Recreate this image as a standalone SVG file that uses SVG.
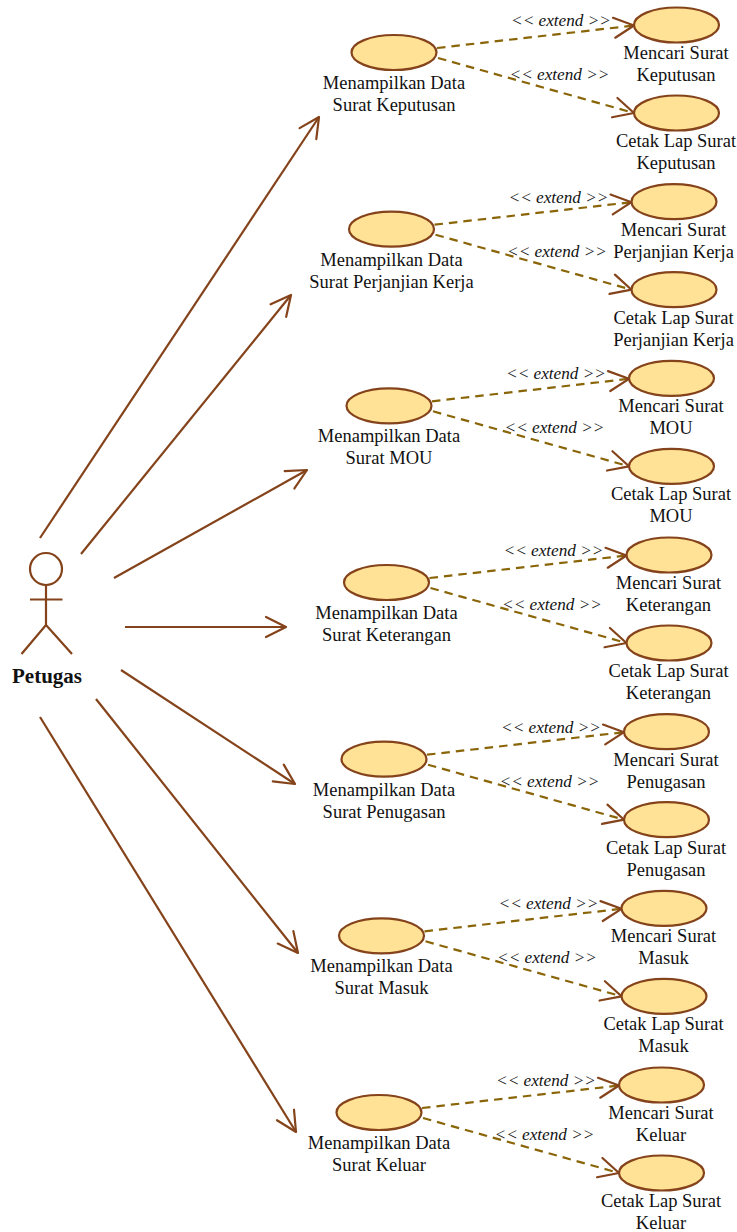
<svg xmlns="http://www.w3.org/2000/svg" width="737" height="1232" viewBox="0 0 737 1232">
<style>
text{font-family:"Liberation Serif","Times New Roman",serif;font-size:18.5px;fill:#111;text-anchor:middle}
ellipse{fill:#ffe296;stroke:#84431a;stroke-width:2.2}
.ac{fill:none;stroke:#84431a;stroke-width:2.2}
.as{stroke:#84431a;stroke-width:2.2;fill:none}
.ex{stroke:#8a6508;stroke-width:2.2;fill:none;stroke-dasharray:8.500 6}
.lb{font-style:italic;font-size:17.2px}
.pt{font-weight:bold;font-size:21px}
</style>
<defs>
<marker id="open" markerUnits="userSpaceOnUse" viewBox="-22 -12 24 24" refX="0" refY="0" markerWidth="24" markerHeight="24" orient="auto"><path d="M-20,-10 L0,0 L-20,10" fill="none" stroke="#84431a" stroke-width="2.200" stroke-linejoin="round" stroke-linecap="round"/></marker>
</defs>
<g id="connectors">
<path class="as" marker-end="url(#open)" d="M40,538 L319,117"/>
<path class="as" marker-end="url(#open)" d="M81,554 L291,295"/>
<path class="as" marker-end="url(#open)" d="M114,578 L307,470"/>
<path class="as" marker-end="url(#open)" d="M125,627 L286,627"/>
<path class="as" marker-end="url(#open)" d="M121,670 L295,784"/>
<path class="as" marker-end="url(#open)" d="M96,699 L298,953"/>
<path class="as" marker-end="url(#open)" d="M40,717 L296,1132"/>
<path class="ex" marker-end="url(#open)" d="M437,48 L634,25.5"/><path class="ex" marker-end="url(#open)" d="M438,58 L634,113"/>
<path class="ex" marker-end="url(#open)" d="M434.5,224.7 L631.5,202.2"/><path class="ex" marker-end="url(#open)" d="M435.5,234.7 L631.5,289.7"/>
<path class="ex" marker-end="url(#open)" d="M432,401.3 L629,378.8"/><path class="ex" marker-end="url(#open)" d="M433,411.3 L629,466.3"/>
<path class="ex" marker-end="url(#open)" d="M429.5,578 L626.5,555.5"/><path class="ex" marker-end="url(#open)" d="M430.5,588 L626.5,643"/>
<path class="ex" marker-end="url(#open)" d="M427,754.7 L624,732.2"/><path class="ex" marker-end="url(#open)" d="M428,764.7 L624,819.7"/>
<path class="ex" marker-end="url(#open)" d="M424.5,931.3 L621.5,908.8"/><path class="ex" marker-end="url(#open)" d="M425.5,941.3 L621.5,996.3"/>
<path class="ex" marker-end="url(#open)" d="M422,1108 L619,1085.5"/><path class="ex" marker-end="url(#open)" d="M423,1118 L619,1173"/>
<text class="lb" x="561" y="26">&lt;&lt; extend &gt;&gt;</text><text class="lb" x="559.500" y="80">&lt;&lt; extend &gt;&gt;</text>
<text class="lb" x="558.500" y="202.700">&lt;&lt; extend &gt;&gt;</text><text class="lb" x="557" y="256.700">&lt;&lt; extend &gt;&gt;</text>
<text class="lb" x="556" y="379.300">&lt;&lt; extend &gt;&gt;</text><text class="lb" x="554.500" y="433.300">&lt;&lt; extend &gt;&gt;</text>
<text class="lb" x="553.500" y="556">&lt;&lt; extend &gt;&gt;</text><text class="lb" x="552" y="610">&lt;&lt; extend &gt;&gt;</text>
<text class="lb" x="551" y="732.700">&lt;&lt; extend &gt;&gt;</text><text class="lb" x="549.500" y="786.700">&lt;&lt; extend &gt;&gt;</text>
<text class="lb" x="548.500" y="909.300">&lt;&lt; extend &gt;&gt;</text><text class="lb" x="547" y="963.300">&lt;&lt; extend &gt;&gt;</text>
<text class="lb" x="546" y="1086">&lt;&lt; extend &gt;&gt;</text><text class="lb" x="544.500" y="1140">&lt;&lt; extend &gt;&gt;</text>
</g>
<g id="actor-petugas">
<circle class="ac" cx="46" cy="569" r="16"/>
<path class="ac" d="M46,585 V625 M30,599.500 H62.500 M46,625 L21.500,654 M46,625 L72,654"/>
<text class="pt" x="47" y="683">Petugas</text>
</g>
<g id="uc-1"><ellipse cx="394" cy="52.500" rx="42.500" ry="17.500"/><text x="394" y="89">Menampilkan Data</text><text x="394" y="111">Surat Keputusan</text></g>
<g id="uc-1a"><ellipse cx="676.500" cy="25" rx="42.500" ry="17.500"/><text x="676" y="59">Mencari Surat</text><text x="676" y="81">Keputusan</text></g>
<g id="uc-1b"><ellipse cx="676.500" cy="113" rx="42.500" ry="17.500"/><text x="676" y="147">Cetak Lap Surat</text><text x="676" y="169">Keputusan</text></g>
<g id="uc-2"><ellipse cx="391.500" cy="229.200" rx="42.500" ry="17.500"/><text x="391.500" y="265.700">Menampilkan Data</text><text x="391.500" y="287.700">Surat Perjanjian Kerja</text></g>
<g id="uc-2a"><ellipse cx="674" cy="201.700" rx="42.500" ry="17.500"/><text x="673.500" y="235.700">Mencari Surat</text><text x="673.500" y="257.700">Perjanjian Kerja</text></g>
<g id="uc-2b"><ellipse cx="674" cy="289.700" rx="42.500" ry="17.500"/><text x="673.500" y="323.700">Cetak Lap Surat</text><text x="673.500" y="345.700">Perjanjian Kerja</text></g>
<g id="uc-3"><ellipse cx="389" cy="405.800" rx="42.500" ry="17.500"/><text x="389" y="442.300">Menampilkan Data</text><text x="389" y="464.300">Surat MOU</text></g>
<g id="uc-3a"><ellipse cx="671.500" cy="378.300" rx="42.500" ry="17.500"/><text x="671" y="412.300">Mencari Surat</text><text x="671" y="434.300">MOU</text></g>
<g id="uc-3b"><ellipse cx="671.500" cy="466.300" rx="42.500" ry="17.500"/><text x="671" y="500.300">Cetak Lap Surat</text><text x="671" y="522.300">MOU</text></g>
<g id="uc-4"><ellipse cx="386.500" cy="582.500" rx="42.500" ry="17.500"/><text x="386.500" y="619">Menampilkan Data</text><text x="386.500" y="641">Surat Keterangan</text></g>
<g id="uc-4a"><ellipse cx="669" cy="555" rx="42.500" ry="17.500"/><text x="668.500" y="589">Mencari Surat</text><text x="668.500" y="611">Keterangan</text></g>
<g id="uc-4b"><ellipse cx="669" cy="643" rx="42.500" ry="17.500"/><text x="668.500" y="677">Cetak Lap Surat</text><text x="668.500" y="699">Keterangan</text></g>
<g id="uc-5"><ellipse cx="384" cy="759.200" rx="42.500" ry="17.500"/><text x="384" y="795.700">Menampilkan Data</text><text x="384" y="817.700">Surat Penugasan</text></g>
<g id="uc-5a"><ellipse cx="666.500" cy="731.700" rx="42.500" ry="17.500"/><text x="666" y="765.700">Mencari Surat</text><text x="666" y="787.700">Penugasan</text></g>
<g id="uc-5b"><ellipse cx="666.500" cy="819.700" rx="42.500" ry="17.500"/><text x="666" y="853.700">Cetak Lap Surat</text><text x="666" y="875.700">Penugasan</text></g>
<g id="uc-6"><ellipse cx="381.500" cy="935.800" rx="42.500" ry="17.500"/><text x="381.500" y="972.300">Menampilkan Data</text><text x="381.500" y="994.300">Surat Masuk</text></g>
<g id="uc-6a"><ellipse cx="664" cy="908.300" rx="42.500" ry="17.500"/><text x="663.500" y="942.300">Mencari Surat</text><text x="663.500" y="964.300">Masuk</text></g>
<g id="uc-6b"><ellipse cx="664" cy="996.300" rx="42.500" ry="17.500"/><text x="663.500" y="1030.300">Cetak Lap Surat</text><text x="663.500" y="1052.300">Masuk</text></g>
<g id="uc-7"><ellipse cx="379" cy="1112.500" rx="42.500" ry="17.500"/><text x="379" y="1149">Menampilkan Data</text><text x="379" y="1171">Surat Keluar</text></g>
<g id="uc-7a"><ellipse cx="661.500" cy="1085" rx="42.500" ry="17.500"/><text x="661" y="1119">Mencari Surat</text><text x="661" y="1141">Keluar</text></g>
<g id="uc-7b"><ellipse cx="661.500" cy="1173" rx="42.500" ry="17.500"/><text x="661" y="1207">Cetak Lap Surat</text><text x="661" y="1229">Keluar</text></g>
</svg>
